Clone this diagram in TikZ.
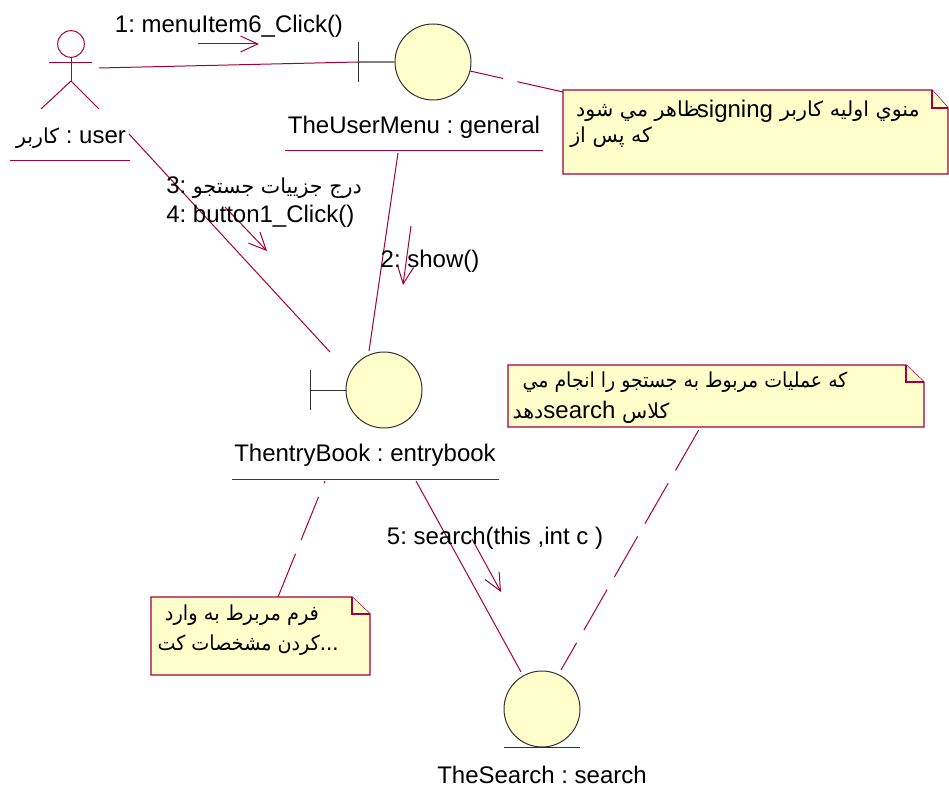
\documentclass[tikz,border=0pt]{standalone}
\usepackage{fontspec}
\usepackage{graphicx}
\setmainfont{Liberation Sans}
\newfontfamily\arabicfont[Script=Arabic,Scale=0.86]{DejaVu Sans}
\TeXXeTstate=1
\frenchspacing
\usetikzlibrary{arrows.meta}
\definecolor{umlline}{RGB}{165,0,60}
\definecolor{umlfill}{RGB}{255,255,204}
\newcommand{\fa}[1]{{\arabicfont\beginR #1\endR}}
\begin{document}
\begin{tikzpicture}[
    x=0.75pt, y=-0.75pt,
    font=\fontsize{18}{21}\selectfont,
    link/.style={umlline, line width=0.75pt},
    msg/.style={umlline, line width=0.75pt, -{Straight Barb[length=13pt,width=12pt,line width=0.75pt]}},
    notelink/.style={umlline, line width=0.75pt, dash pattern=on 35pt off 11pt},
    ball/.style={circle, draw=black!80, fill=umlfill, line width=0.75pt, minimum size=57pt, inner sep=0pt},
    caption/.style={inner sep=0pt, text=black, yshift=-1.5pt},
    stem/.style={black!50, line width=1pt},
    bar/.style={black!80, line width=0.75pt},
    note/.style={draw=umlline, fill=umlfill, line width=1pt, line join=miter}
]
    \useasboundingbox (0,0) rectangle (949,798);

    % Actor
    \node[circle, draw=umlline, line width=0.75pt, minimum size=20pt, inner sep=0pt] (head) at (71,44) {};
    \coordinate (hip) at (71,81);
    \draw[link] (head.south) -- (hip);
    \draw[link] (49,63) -- (92,63);
    \draw[link] (41,109) -- (hip) -- (99,109);
    \node[caption] (userlabel) at (71,136) {\fa{کاربر} : user};
    \draw[link] (10,161) -- (130,161);

    % TheUserMenu
    \node[ball] (menu) at (433,62) {};
    \coordinate (menubar) at (358,62);
    \draw[stem] (menubar) -- (menu.west);
    \draw[bar] (358,42) -- (358,82);
    \node[caption] (menulabel) at (414,125) {TheUserMenu : general};
    \draw[link] (285,151) -- (543,151);

    % ThentryBook
    \node[ball] (entry) at (384,390) {};
    \coordinate (entrybar) at (310,390);
    \draw[bar] (entrybar) -- (entry.west);
    \draw[bar] (310,370) -- (310,410);
    \node[caption] (entrylabel) at (365,453) {ThentryBook : entrybook};
    \draw[link] (232,479) -- (499,479);

    % TheSearch
    \node[ball] (search) at (542,709) {};
    \draw[bar] (504,747) -- (580,747);
    \node[caption] (searchlabel) at (542,773) {TheSearch : search};

    % Links
    \coordinate (userend) at (129,134);
    \coordinate (noteAend) at (563,92);
    \coordinate (noteBend) at (698.7,430);
    \coordinate (noteCend) at (278,597);
    \draw[link] (99,68) -- (menubar);
    \draw[link] (userend) -- (330,352);
    \draw[link] (398,153) -- (369,351);
    \draw[link] (416,481) -- (521,672);
    \draw[notelink] (noteAend) -- (470,71);
    \draw[notelink] (noteBend) -- (561,670);
    \draw[notelink] (noteCend) -- (325,481);

    % Notes
    \draw[note] (563,90) -- (932,90) -- (948,108) -- (948,174) -- (563,174) -- cycle;
    \draw[note] (932,90) -- (932,108) -- (948,108);
    \node[caption, anchor=east] (noteAone) at (920,109) {\fa{منوي اوليه كاربر}};
    \node[caption, anchor=east] (noteAthree) at (700,109) {\fa{ظاهر مي شود}};
    \node[caption] (noteAsign) at (735,109) {signing};
    \node[caption, anchor=west] (noteAtwo) at (570,135) {\fa{كه پس از}};

    \draw[note] (508,365) -- (906,365) -- (924,382) -- (924,427) -- (508,427) -- cycle;
    \draw[note] (906,365) -- (906,382) -- (924,382);
    \node[caption] (noteBone) at (685,380) {\resizebox{243.7pt}{\height}{\fa{كه عمليات مربوط به جستجو را انجام مي}}};
    \node[caption] (noteBtwo) at (591,410) {\fa{دهد}search \fa{كلاس}};

    \draw[note] (151,597) -- (352,597) -- (370,614) -- (370,675) -- (151,675) -- cycle;
    \draw[note] (352,597) -- (352,614) -- (370,614);
    \node[caption] (noteCone) at (242,613) {\resizebox{115.5pt}{\height}{\fa{فرم مربرط به وارد}}};
    \node[caption] (noteCtwo) at (248,643) {\resizebox{135.7pt}{\height}{\fa{كردن مشخصات كت}...}};

    % Messages
    \draw[msg] (198,44) -- (259,44);
    \node[caption] (msgone) at (229,24) {1: menuItem6\_Click()};
    \draw[msg] (225,207) -- (267,251);
    \node[caption, anchor=west] (msgthree) at (166,186) {3: \fa{درج جزييات جستجو}};
    \node[caption, anchor=west] (msgfour) at (166,214) {4: button1\_Click()};
    \draw[msg] (411,226) -- (403,285);
    \node[caption] (msgtwo) at (430,259) {2: show()};
    \draw[msg] (472,539) -- (501,592);
    \node[caption] (msgfive) at (495,536) {5: search(this ,int c )};
\end{tikzpicture}
\end{document}
